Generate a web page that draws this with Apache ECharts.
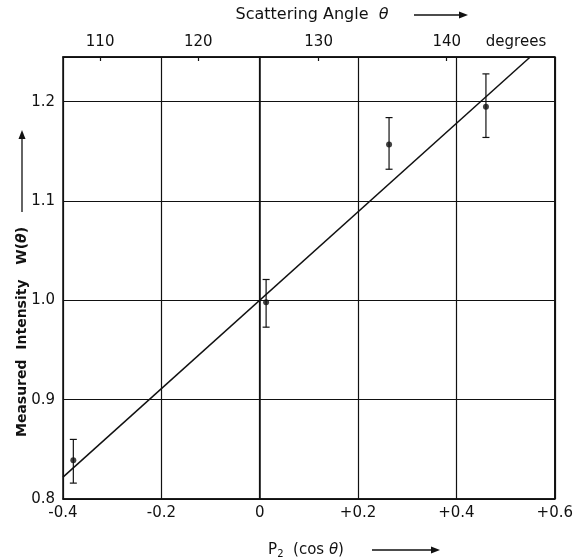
<!DOCTYPE html>
<html>
<head>
<meta charset="utf-8">
<script src="https://cdn.jsdelivr.net/npm/echarts@6/dist/echarts.min.js"></script>
<style>
  html, body { margin: 0; padding: 0; background: #fff; }
  #main { width: 576px; height: 560px; }
</style>
</head>
<body>
<div id="main"></div>
<script>
// measured points, P2(cos theta) vs W(theta)
var pX = [-0.379, 0.013, 0.263, 0.46];
var wY = [0.839, 0.998, 1.157, 1.195];
var errLo = [0.816, 0.973, 1.132, 1.164];
var errHi = [0.860, 1.021, 1.184, 1.228];

// fitted straight line (end points)
var fitX = [-0.4, 0.55];
var fitY = [0.822, 1.245];

// top axis: scattering angle in degrees
var thetaTicks = [110, 120, 130, 140];

function p2(deg) {
    var c = Math.cos(deg * Math.PI / 180);
    return (3 * c * c - 1) / 2;
}
var thetaPos = thetaTicks.map(p2);

var font = 'DejaVu Sans';
var ink = '#111';

var chart = echarts.init(document.getElementById('main'));

function arrow(x1, y1, x2, y2) {
    // little arrow built of a line and a filled head
    var ang = Math.atan2(y2 - y1, x2 - x1);
    var L = 9, W = 3.5;
    var bx = x2 - L * Math.cos(ang), by = y2 - L * Math.sin(ang);
    var nx = -Math.sin(ang) * W, ny = Math.cos(ang) * W;
    return [
        { type: 'line', shape: { x1: x1, y1: y1, x2: bx, y2: by }, style: { stroke: ink, lineWidth: 1.3 } },
        { type: 'polygon', shape: { points: [[x2, y2], [bx + nx, by + ny], [bx - nx, by - ny]] }, style: { fill: ink } }
    ];
}

var option = {
    backgroundColor: '#fff',
    animation: false,
    grid: {
        left: 63, right: 18, top: 57, bottom: 61,
        show: true, borderColor: ink, borderWidth: 1.5
    },
    xAxis: [
        {
            type: 'value',
            min: -0.4, max: 0.6, interval: 0.2,
            axisLine: { show: true, lineStyle: { color: ink, width: 1.5 } },
            axisTick: { show: false },
            splitLine: { show: true, lineStyle: { color: ink, width: 1.2 } },
            axisLabel: {
                color: ink, fontFamily: font, fontSize: 15, margin: 7,
                formatter: function(v) {
                    var r = Math.round(v * 10) / 10;
                    if (r === 0) return '0';
                    return (r > 0 ? '+' : '-') + Math.abs(r).toFixed(1);
                }
            }
        },
        {
            type: 'value',
            position: 'top',
            min: -0.4, max: 0.6,
            axisLine: { show: true, lineStyle: { color: ink, width: 1.5 } },
            splitLine: { show: false },
            axisTick: { show: true, inside: true, length: 4, customValues: thetaPos, lineStyle: { color: ink, width: 1.2 } },
            axisLabel: {
                color: ink, fontFamily: font, fontSize: 15, margin: 7,
                customValues: thetaPos,
                formatter: function(v) {
                    for (var i = 0; i < thetaPos.length; i++) {
                        if (Math.abs(thetaPos[i] - v) < 1e-6) return String(thetaTicks[i]);
                    }
                    return '';
                }
            }
        }
    ],
    yAxis: {
        type: 'value',
        min: 0.8, max: 1.245, interval: 0.1,
        axisLine: { show: true, lineStyle: { color: ink, width: 1.5 } },
        axisTick: { show: false },
        splitLine: { show: true, lineStyle: { color: ink, width: 1.2 } },
        axisLabel: {
            color: ink, fontFamily: font, fontSize: 15, margin: 8,
            showMaxLabel: false,
            formatter: function(v) { return v.toFixed(1); }
        }
    },
    graphic: [
        {
            type: 'text', x: 312, y: 15,
            style: {
                text: 'Scattering Angle  {i|θ}', fill: ink, font: '16px ' + font,
                align: 'center', verticalAlign: 'middle',
                rich: { i: { fontStyle: 'italic', fontSize: 16, fontFamily: font, fill: ink } }
            }
        },
        {
            type: 'text', x: 516, y: 42,
            style: { text: 'degrees', fill: ink, font: '15px ' + font, align: 'center', verticalAlign: 'middle' }
        },
        {
            type: 'text', x: 306, y: 550,
            style: {
                text: 'P{s|2}  (cos {i|θ})', fill: ink, font: '15px ' + font,
                align: 'center', verticalAlign: 'middle',
                rich: {
                    s: { fontSize: 10, fontFamily: font, fill: ink, verticalAlign: 'bottom', padding: [8, 0, 0, 0] },
                    i: { fontStyle: 'italic', fontSize: 15, fontFamily: font, fill: ink }
                }
            }
        },
        {
            type: 'text', x: 22, y: 332, rotation: Math.PI / 2,
            style: {
                text: 'Measured  Intensity   W({i|θ})', fill: ink, font: 'bold 14px ' + font,
                align: 'center', verticalAlign: 'middle',
                rich: { i: { fontStyle: 'italic', fontWeight: 'bold', fontSize: 14, fontFamily: font, fill: ink } }
            }
        }
    ].concat(arrow(414, 15, 468, 15))
     .concat(arrow(372, 550, 440, 550))
     .concat(arrow(22, 212, 22, 130)),
    series: [
        {
            type: 'line',
            data: fitX.map(function(x, i) { return [x, fitY[i]]; }),
            symbol: 'none',
            lineStyle: { color: ink, width: 1.5 },
            z: 3
        },
        {
            type: 'custom',
            data: pX.map(function(x, i) { return [x, errLo[i], errHi[i]]; }),
            renderItem: function(params, api) {
                var x = api.value(0);
                var lo = api.coord([x, api.value(1)]);
                var hi = api.coord([x, api.value(2)]);
                var h = 3.5;
                var st = { stroke: ink, lineWidth: 1.2 };
                return {
                    type: 'group',
                    children: [
                        { type: 'line', shape: { x1: hi[0], y1: hi[1], x2: lo[0], y2: lo[1] }, style: st },
                        { type: 'line', shape: { x1: hi[0] - h, y1: hi[1], x2: hi[0] + h, y2: hi[1] }, style: st },
                        { type: 'line', shape: { x1: lo[0] - h, y1: lo[1], x2: lo[0] + h, y2: lo[1] }, style: st }
                    ]
                };
            },
            z: 4
        },
        {
            type: 'scatter',
            data: pX.map(function(x, i) { return [x, wY[i]]; }),
            symbol: 'circle',
            symbolSize: 6,
            itemStyle: { color: ink },
            z: 5
        }
    ]
};

chart.setOption(option);
</script>
</body>
</html>
